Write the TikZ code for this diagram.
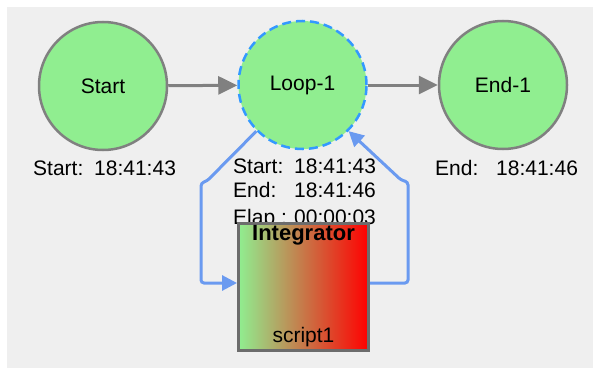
\documentclass[tikz,border=0pt]{standalone}
\usepackage{fontspec}
\setmainfont{Liberation Sans}
\usetikzlibrary{arrows.meta}
\definecolor{canvas}{HTML}{EFEFEF}
\definecolor{nodegreen}{HTML}{90EE90}
\definecolor{rimgray}{HTML}{808080}
\definecolor{loopblue}{HTML}{3399FF}
\definecolor{linkblue}{HTML}{6A9AF0}
\tikzset{
  txt/.style={font=\fontsize{21}{24}\selectfont, inner sep=0pt},
  state/.style={circle, fill=nodegreen, draw=rimgray, line width=2.5pt,
    minimum size=128pt, inner sep=0pt, txt},
  loopstate/.style={state, draw=loopblue, dash pattern=on 9pt off 5pt},
  flow/.style={draw=rimgray, line width=3pt, -{Triangle[length=19pt,width=18pt]}},
  back/.style={draw=linkblue, line width=3pt, rounded corners=3pt,
    -{Triangle[length=15pt,width=15pt]}},
  stamp/.style={txt, anchor=base west},
  task/.style={rectangle, left color=nodegreen, right color=red,
    draw=gray!85!black, line width=3pt, minimum width=130pt, minimum height=127pt, inner sep=0pt}
}
\newcommand{\tabcell}[1]{\makebox[61pt][l]{#1}}
\begin{document}
\begin{tikzpicture}[x=1pt, y=-1pt]
  \useasboundingbox (0,0) rectangle (593,369);
  \fill[canvas] (7,7) rectangle (593,368);

  % main states
  \node[state] (start) at (103,86) {Start};
  \node[loopstate] (loop) at (302.5,85) {Loop-1};
  \node[state] (end) at (503,85) {End-1};

  \draw[flow] (start) -- (loop);
  \draw[flow] (loop) -- (end);

  % timing stamps
  \node[stamp] (startlbl) at (33,175) {\tabcell{Start:}18:41:43};
  \node[stamp] (endlbl) at (435,175) {\tabcell{End:}18:41:46};
  \node[stamp] (loopst) at (233,173) {\tabcell{Start:}18:41:43};
  \node[stamp] (loopen) at (233,197) {\tabcell{End:}18:41:46};
  \node[stamp] (loopel) at (233,224) {\tabcell{Elap :}00:00:03};

  % loop body
  \node[task] (integ) at (303.5,287) {};
  \node[txt, anchor=base, font=\fontsize{22}{24}\selectfont\bfseries] (integname) at (303.5,240) {Integrator};
  \node[txt, anchor=base] (integscript) at (303.5,342) {script1};

  % loop connectors
  \draw[back] (loop.-135) -- (207,181) -- (201,183) -- (201,283) -- ([yshift=4pt]integ.west);
  \draw[back] ([yshift=4pt]integ.east) -- (408,283) -- (408,182) -- (401,180) -- (loop.-45);
\end{tikzpicture}
\end{document}
